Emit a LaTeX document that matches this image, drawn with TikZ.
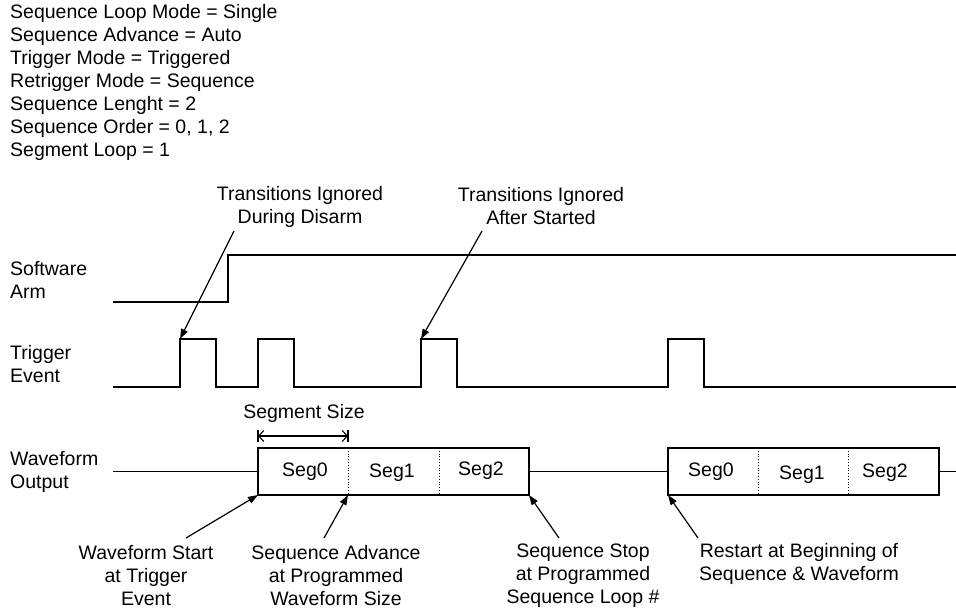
\documentclass[tikz,border=0pt]{standalone}
\usepackage{fontspec}
\setmainfont{Liberation Sans}
\usetikzlibrary{arrows.meta}
\begin{document}
\begin{tikzpicture}[x=1pt,y=-1pt,
  txt/.style={font=\fontsize{19.5}{23}\selectfont, inner sep=0pt},
  note/.style={txt, align=center},
  rowlabel/.style={txt, align=left, anchor=west},
  wave/.style={line width=1.3pt},
  pointer/.style={line width=1.2pt, -{Triangle[length=10pt,width=7pt]}},
  celldiv/.style={line width=0.8pt, dotted},
  span/.style={line width=1.1pt, {Straight Barb[length=5pt,width=11pt]}-{Straight Barb[length=5pt,width=11pt]}},
  spanbar/.style={line width=1.1pt},
]
\useasboundingbox (0,0) rectangle (956,610);

% settings block
\node[rowlabel] (settings) at (10,82) {Sequence Loop Mode = Single\\Sequence Advance = Auto\\Trigger Mode = Triggered\\Retrigger Mode = Sequence\\Sequence Lenght = 2\\Sequence Order = 0, 1, 2\\Segment Loop = 1};

% row labels
\node[rowlabel] (armlbl)  at (10,280) {Software\\Arm};
\node[rowlabel] (triglbl) at (10,364) {Trigger\\Event};
\node[rowlabel] (wavelbl) at (10,472) {Waveform\\Output};

% software arm
\draw[wave] (113,302) -- (228,302) -- (228,255) -- (956,255);

% trigger events
\coordinate (pulseA) at (180,339);
\coordinate (pulseC) at (421,339);
\draw[wave] (113,387) -| (pulseA) -| (216,387) -| (258,339) -| (294,387)
  -| (pulseC) -| (457,387) -| (668,339) -| (704,387) -- (956,387);

% waveform output, first run
\coordinate (runAstart) at (258,495);
\coordinate (runAstep)  at (348,495);
\coordinate (runAend)   at (529,495);
\draw[wave] (113,471.5) -- (258,471.5);
\draw[wave] (258,448) rectangle (runAend);
\draw[celldiv] (348,448) -- (runAstep);
\draw[celldiv] (439,448) -- (439,495);
\draw[wave] (529,471.5) -- (668,471.5);
\node[txt] (a0) at (305,472) {Seg0};
\node[txt] (a1) at (392,473) {Seg1};
\node[txt] (a2) at (481,471) {Seg2};

% waveform output, second run
\coordinate (runBstart) at (668,495);
\draw[wave] (668,448) rectangle (939,495);
\draw[celldiv] (758,448) -- (758,495);
\draw[celldiv] (848,448) -- (848,495);
\draw[wave] (939,471.5) -- (956,471.5);
\node[txt] (b0) at (711,472) {Seg0};
\node[txt] (b1) at (802,475) {Seg1};
\node[txt] (b2) at (885,473) {Seg2};

% segment size dimension
\node[txt] (segsize) at (304,413) {Segment Size};
\coordinate (dimL) at (258,436);
\coordinate (dimR) at (348,436);
\draw[span] (dimL) -- (dimR);
\draw[spanbar] ([yshift=-6pt]dimL) -- ([yshift=6pt]dimL);
\draw[spanbar] ([yshift=-6pt]dimR) -- ([yshift=6pt]dimR);

% upper annotations
\node[note] (ign1) at (300,206.5) {Transitions Ignored\\During Disarm};
\node[note] (ign2) at (541,206.5) {Transitions Ignored\\After Started};
\coordinate (ign1tail) at (234,231);
\coordinate (ign2tail) at (482,231);
\draw[pointer] (ign1tail) -- (pulseA);
\draw[pointer] (ign2tail) -- (pulseC);

% lower annotations
\node[note] (start)   at (146,576) {Waveform Start\\at Trigger\\Event};
\node[note] (advance) at (336,576) {Sequence Advance\\at Programmed\\Waveform Size};
\node[note] (stop)    at (583,576) {Sequence Stop\\at Programmed\\Sequence Loop \#};
\node[note] (restart) at (799,564) {Restart at Beginning of\\Sequence \& Waveform};
\coordinate (starttail)   at (186,538);
\coordinate (advancetail) at (324,538);
\coordinate (stoptail)    at (559,538);
\coordinate (restarttail) at (698,538);
\draw[pointer] (starttail) -- (runAstart);
\draw[pointer] (advancetail) -- (runAstep);
\draw[pointer] (stoptail) -- (runAend);
\draw[pointer] (restarttail) -- (runBstart);
\end{tikzpicture}
\end{document}
